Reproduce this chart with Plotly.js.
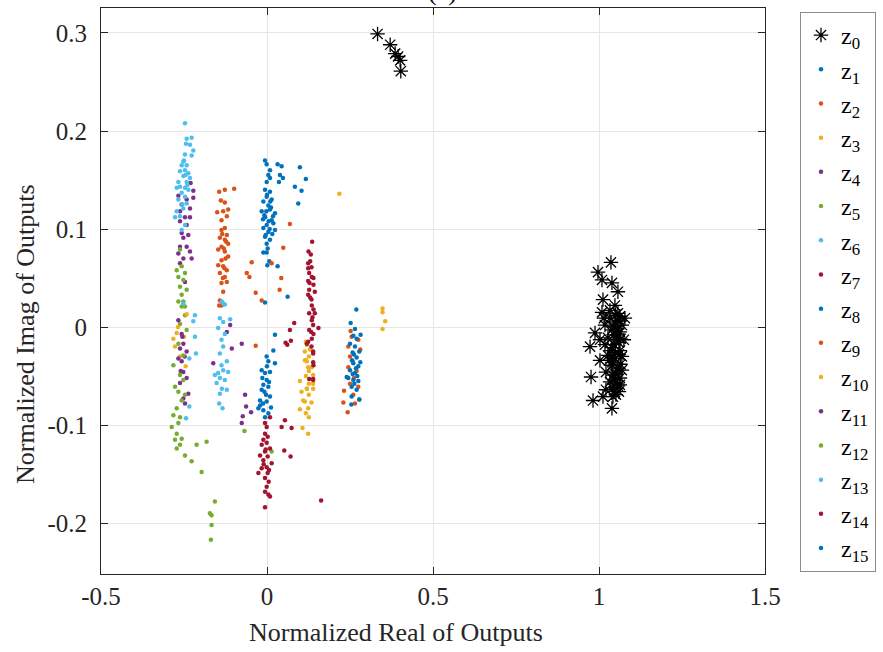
<!DOCTYPE html>
<html>
<head>
<meta charset="utf-8">
<script src="https://cdn.plot.ly/plotly-3.0.1.min.js"></script>
<style>html,body{margin:0;padding:0;background:#fff;overflow:hidden}#chart{width:883px;height:652px}</style>
</head>
<body>
<div id="chart"></div>
<script>
// ---- data ----
const seriesNames = ['z<sub>0</sub>','z<sub>1</sub>','z<sub>2</sub>','z<sub>3</sub>','z<sub>4</sub>','z<sub>5</sub>','z<sub>6</sub>','z<sub>7</sub>','z<sub>8</sub>','z<sub>9</sub>','z<sub>10</sub>','z<sub>11</sub>','z<sub>12</sub>','z<sub>13</sub>','z<sub>14</sub>','z<sub>15</sub>'];
const xTitle = 'Normalized Real of Outputs';
const yTitle = 'Normalized Imag of Outputs';
const plotTitle = '(a)';
const xTickVals = [-0.5, 0, 0.5, 1, 1.5];
const xTickText = ['-0.5','0','0.5','1','1.5'];
const yTickVals = [-0.2, -0.1, 0, 0.1, 0.2, 0.3];
const yTickText = ['-0.2','-0.1','0','0.1','0.2','0.3'];

const z0x = [0.333,0.371,0.386,0.395,0.401,0.403,1.036,0.997,1.009,1.039,1.057,1.012,1.009,1.057,1.033,1.048,1.063,1.018,0.988,1.039,1.063,1.027,1.051,0.973,1.018,1.039,1.063,1.027,1.048,1.069,1.003,1.039,1.057,1.021,0.976,1.042,1.063,1.033,1.057,1.021,1.045,0.982,1.012,1.042,1.039,1.063,1.051,1.030,1.069,1.075,1.069,1.078,1.015,1.003,1.033,1.048,1.045,1.055,1.060,1.050,1.040,1.065,1.055,1.045,1.060,1.050,1.040,1.055,1.065,1.045,1.050,1.060,1.035,1.055,1.045,1.060];
const z0y = [0.299,0.288,0.279,0.276,0.272,0.261,0.066,0.056,0.048,0.045,0.036,0.028,0.015,0.014,0.009,0.005,0.011,0.002,-0.006,-0.003,-0.005,-0.011,-0.013,-0.020,-0.018,-0.021,-0.024,-0.029,-0.032,-0.030,-0.034,-0.039,-0.042,-0.046,-0.051,-0.049,-0.052,-0.056,-0.060,-0.064,-0.066,-0.075,-0.071,-0.071,-0.083,-0.059,-0.069,-0.034,0.002,-0.013,-0.044,0.009,0.009,-0.013,0.017,0.022,0.000,-0.008,-0.016,-0.026,-0.036,-0.012,-0.044,-0.054,-0.028,0.012,-0.062,-0.002,-0.038,-0.018,-0.048,0.006,-0.024,-0.058,-0.008,-0.066];

const z1x = [-0.006,-0.001,0.032,0.044,0.009,0.099,0.004,0.039,0.048,0.117,0.009,-0.001,0.036,0.084,-0.006,0.009,0.104,-0.001,0.014,-0.011,0.004,0.094,-0.016,0.009,0.024,-0.006,0.014,-0.001,-0.011,0.019,0.004,0.024,-0.006,0.009,-0.001,-0.011,-0.001,0.007,0.001,0.032,0.062,-0.006,0.000,0.012,-0.008,0.005,0.016,-0.004,0.010,-0.012,0.002,0.018,-0.002,0.008];
const z1y = [0.170,0.166,0.166,0.164,0.160,0.163,0.155,0.155,0.152,0.151,0.152,0.148,0.148,0.143,0.140,0.138,0.139,0.133,0.130,0.128,0.124,0.126,0.118,0.120,0.116,0.112,0.109,0.104,0.101,0.106,0.097,0.099,0.092,0.089,0.085,0.076,0.076,0.067,0.063,0.062,0.031,0.025,0.135,0.122,0.114,0.108,0.095,0.094,0.128,0.110,0.080,0.113,0.118,0.100];

const z2x = [-0.144,-0.127,-0.099,-0.139,-0.127,-0.117,-0.150,-0.132,-0.121,-0.137,-0.127,-0.137,-0.121,-0.142,-0.127,-0.117,-0.137,-0.147,-0.127,-0.117,-0.137,-0.147,-0.132,-0.121,-0.142,-0.127,-0.137,-0.121,-0.132,-0.142,-0.137,-0.144,-0.130,-0.125,-0.135,-0.128,-0.133,-0.123];
const z2y = [0.138,0.140,0.141,0.129,0.127,0.120,0.117,0.118,0.113,0.109,0.101,0.099,0.094,0.091,0.089,0.085,0.082,0.079,0.077,0.072,0.068,0.063,0.062,0.058,0.055,0.051,0.045,0.046,0.036,0.027,0.022,0.022,0.080,0.070,0.095,0.060,0.050,0.087];

const z3x = [0.117,0.120,0.114,0.129,0.126,0.120,0.117,0.135,0.126,0.117,0.139,0.099,0.126,0.120,0.139,0.104,0.126,0.114,0.134,0.099,0.117,0.126,0.114,0.124,0.120,0.139,0.109,0.124,0.107,0.124];
const z3y = [-0.015,-0.018,-0.025,-0.023,-0.030,-0.035,-0.034,-0.041,-0.045,-0.050,-0.049,-0.055,-0.058,-0.063,-0.063,-0.066,-0.069,-0.076,-0.077,-0.084,-0.088,-0.092,-0.034,-0.041,-0.063,-0.058,-0.075,-0.083,-0.103,-0.109];

const z4x = [-0.230,-0.222,-0.267,-0.242,-0.222,-0.257,-0.232,-0.262,-0.247,-0.232,-0.262,-0.242,-0.257,-0.237,-0.252,-0.262,-0.242,-0.267,-0.232,-0.252,-0.227,-0.262,-0.247];
const z4y = [0.147,0.139,0.134,0.130,0.132,0.125,0.121,0.118,0.112,0.112,0.108,0.104,0.096,0.094,0.091,0.082,0.082,0.075,0.077,0.070,0.070,0.065,0.046];

const z5x = [-0.262,-0.272,-0.257,-0.247,-0.267,-0.252,-0.262,-0.242,-0.257,-0.267,-0.247,-0.252,-0.257,-0.247,-0.262,-0.242];
const z5y = [0.079,0.058,0.062,0.055,0.051,0.048,0.041,0.038,0.033,0.026,0.021,0.026,0.021,0.012,0.003,-0.003];

const z6x = [-0.247,-0.242,-0.227,-0.232,-0.244,-0.222,-0.247,-0.227,-0.252,-0.257,-0.242,-0.247,-0.262,-0.237,-0.252,-0.232,-0.267,-0.242,-0.262,-0.247,-0.272,-0.237,-0.257,-0.247,-0.267,-0.242,-0.252,-0.272,-0.262,-0.277,-0.247,-0.257,-0.250,-0.240,-0.255,-0.245];
const z6y = [0.208,0.192,0.193,0.186,0.187,0.180,0.176,0.175,0.169,0.165,0.165,0.160,0.159,0.157,0.154,0.152,0.148,0.148,0.143,0.142,0.142,0.140,0.137,0.133,0.130,0.126,0.121,0.118,0.113,0.112,0.104,0.099,0.170,0.145,0.125,0.155];

const z7x = [0.136,0.125,0.132,0.124,0.130,0.124,0.134,0.127,0.135,0.140,0.124,0.140,0.127,0.144,0.124,0.134,0.135,0.140,0.127,0.144,0.135,0.139,0.155,0.127,0.140,0.135,0.124,0.134,0.139,0.140,0.139,0.082,0.069,0.072,0.056,0.061,0.120,0.139,0.139,0.127,0.139,0.130,0.137,0.128,0.133];
const z7y = [0.087,0.077,0.074,0.065,0.067,0.060,0.061,0.055,0.051,0.050,0.047,0.043,0.038,0.036,0.033,0.028,0.022,0.018,0.014,0.014,0.007,0.002,-0.001,-0.003,-0.007,-0.012,-0.015,-0.020,-0.027,-0.039,-0.053,0.004,-0.003,-0.014,-0.016,-0.018,-0.017,-0.025,-0.036,-0.053,-0.054,0.030,0.010,0.045,-0.005];

const z8x = [0.024,0.019,-0.001,0.004,-0.016,-0.006,0.009,-0.001,0.024,-0.011,0.004,-0.016,-0.003,0.009,-0.021,-0.001,-0.026,-0.011,0.004,-0.006,-0.021,-0.014,0.000,-0.008,0.006,-0.012,0.012];
const z8y = [-0.008,-0.024,-0.030,-0.035,-0.044,-0.047,-0.046,-0.054,-0.037,-0.059,-0.061,-0.064,-0.069,-0.071,-0.075,-0.076,-0.083,-0.085,-0.088,-0.092,-0.080,-0.052,-0.040,-0.066,-0.056,-0.078,-0.082];

const z9x = [0.255,0.245,0.275,0.250,0.281,0.245,0.270,0.250,0.275,0.232,0.260,0.230,0.278,0.265,0.243,0.069,0.049,-0.046,0.014,-0.061,-0.053,0.043,-0.034,0.038,-0.016,-0.034,0.258,0.262,0.252];
const z9y = [-0.010,-0.020,-0.013,-0.030,-0.023,-0.041,-0.045,-0.058,-0.061,-0.065,-0.069,-0.077,-0.074,-0.078,-0.087,0.105,0.081,0.066,0.065,0.055,0.051,0.050,0.035,0.038,0.027,-0.019,-0.035,-0.052,-0.004];

const z10x = [0.218,0.348,0.348,0.356,0.348,-0.282,-0.272,-0.242,-0.277,-0.262,-0.250,-0.268,-0.245];
const z10y = [0.136,0.019,0.015,0.006,-0.002,-0.012,-0.006,0.013,-0.020,-0.030,-0.010,0.000,-0.040];

const z11x = [-0.267,-0.257,-0.252,-0.262,-0.242,-0.267,-0.257,-0.252,-0.242,-0.262,-0.237,-0.252,-0.247,-0.111,-0.121,-0.106,-0.076,-0.162,-0.066,-0.063,-0.073,-0.048,-0.076,-0.255,-0.260,-0.248];
const z11y = [0.007,-0.007,-0.017,-0.022,-0.025,-0.032,-0.035,-0.046,-0.052,-0.057,-0.068,-0.073,-0.078,0.002,-0.005,-0.022,-0.017,-0.037,-0.069,-0.081,-0.091,-0.087,-0.098,-0.010,-0.045,-0.030];

const z12x = [-0.267,-0.252,-0.282,-0.262,-0.252,-0.277,-0.267,-0.247,-0.257,-0.272,-0.282,-0.262,-0.287,-0.267,-0.272,-0.257,-0.277,-0.262,-0.272,-0.247,-0.227,-0.212,-0.182,-0.197,-0.157,-0.172,-0.167,-0.167,-0.169,-0.068,0.014];
const z12y = [-0.017,-0.029,-0.039,-0.049,-0.054,-0.061,-0.066,-0.069,-0.075,-0.083,-0.090,-0.092,-0.102,-0.098,-0.109,-0.114,-0.115,-0.120,-0.124,-0.131,-0.137,-0.120,-0.117,-0.148,-0.178,-0.190,-0.192,-0.202,-0.217,-0.106,-0.127];

const z13x = [-0.136,-0.127,-0.142,-0.111,-0.132,-0.147,-0.127,-0.137,-0.132,-0.142,-0.121,-0.137,-0.132,-0.147,-0.117,-0.142,-0.127,-0.152,-0.136,-0.121,-0.142,-0.144,-0.134,-0.157,-0.132,-0.252,-0.217,-0.222,-0.217,-0.214,-0.234,-0.234,-0.244];
const z13y = [0.026,0.023,0.009,0.008,0.005,-0.001,-0.007,-0.013,-0.020,-0.027,-0.035,-0.039,-0.044,-0.047,-0.046,-0.052,-0.054,-0.057,-0.063,-0.064,-0.068,-0.078,-0.083,-0.049,0.024,0.024,0.012,0.006,-0.010,-0.027,-0.032,-0.081,-0.093];

const z14x = [-0.001,-0.006,0.002,-0.011,-0.001,-0.016,0.009,-0.006,-0.021,0.002,-0.011,0.014,-0.001,-0.016,-0.026,0.002,-0.006,-0.001,-0.006,0.004,0.009,-0.006,-0.006,0.009,0.044,0.054,0.074,0.052,0.071,0.163,0.005,-0.010,0.006,-0.004];
const z14y = [-0.102,-0.109,-0.112,-0.115,-0.118,-0.120,-0.124,-0.127,-0.131,-0.132,-0.136,-0.139,-0.143,-0.144,-0.149,-0.149,-0.154,-0.163,-0.168,-0.171,-0.173,-0.184,-0.098,-0.092,-0.102,-0.095,-0.103,-0.126,-0.132,-0.177,-0.158,-0.140,-0.146,-0.125];

const z15x = [0.269,0.252,0.265,0.282,0.260,0.270,0.250,0.265,0.278,0.258,0.270,0.260,0.275,0.250,0.265,0.245,0.260,0.275,0.255,0.270,0.255,0.278,0.254,0.240,0.281,0.262,0.268,0.256,0.272,0.263,0.258];
const z15y = [0.018,0.004,-0.002,-0.008,-0.009,-0.012,-0.017,-0.020,-0.025,-0.026,-0.031,-0.037,-0.040,-0.044,-0.047,-0.052,-0.054,-0.055,-0.061,-0.064,-0.071,-0.074,-0.079,-0.051,-0.036,-0.028,-0.042,-0.034,-0.050,-0.058,-0.048];

// ---- styling ----
const palette = ['#0072BD','#D95319','#EDB120','#7E2F8E','#77AC30','#4DBEEE','#A2142F'];
const xs = [z0x,z1x,z2x,z3x,z4x,z5x,z6x,z7x,z8x,z9x,z10x,z11x,z12x,z13x,z14x,z15x];
const ys = [z0y,z1y,z2y,z3y,z4y,z5y,z6y,z7y,z8y,z9y,z10y,z11y,z12y,z13y,z14y,z15y];
const FONT = 'Liberation Serif, Times New Roman, serif';
const ink = '#262626';

const traces = xs.map((x, i) => {
  const t = {
    type: 'scatter', mode: 'markers', x: x, y: ys[i], name: seriesNames[i],
    legendgroup: 'g' + i
  };
  if (i === 0) {
    t.marker = {symbol: 'asterisk-open', size: 12, color: '#000', line: {color: '#000', width: 1.3}};
  } else {
    t.marker = {symbol: 'circle', size: 4.5, color: palette[(i - 1) % 7], line: {width: 0}};
  }
  return t;
});

const axisCommon = {
  showline: true, mirror: 'ticks', linecolor: ink, linewidth: 1,
  ticks: 'inside', ticklen: 7, tickcolor: ink, tickwidth: 1,
  showgrid: true, gridcolor: '#e6e6e6', gridwidth: 1, zeroline: false,
  tickfont: {family: FONT, size: 25, color: ink}, tickmode: 'array'
};

const layout = {
  width: 883, height: 652,
  margin: {l: 101, r: 118, t: 8, b: 78, autoexpand: false},
  paper_bgcolor: '#fff', plot_bgcolor: '#fff',
  showlegend: true,
  font: {family: FONT, color: ink},
  xaxis: Object.assign({}, axisCommon, {
    range: [-0.5, 1.5], tickvals: xTickVals, ticktext: xTickText
  }),
  yaxis: Object.assign({}, axisCommon, {
    range: [-0.252, 0.3255], tickvals: yTickVals, ticktext: yTickText,
    ticklabelstandoff: 8
  }),
  legend: {
    x: 1.0527, xanchor: 'left', y: 0.993, yanchor: 'top',
    bgcolor: '#fff', bordercolor: '#8c8c8c', borderwidth: 1,
    font: {family: FONT, size: 24, color: '#000'},
    tracegroupgap: 0, itemsizing: 'trace'
  },
  annotations: [
    {text: plotTitle, xref: 'paper', yref: 'paper', x: 0.515, y: 1, xanchor: 'center', yanchor: 'bottom',
     yshift: 0, showarrow: false, font: {family: FONT, size: 26, color: '#000'}},
    {text: xTitle, xref: 'paper', yref: 'paper', x: 0.444, y: 0, xanchor: 'center', yanchor: 'middle',
     yshift: -58, showarrow: false, font: {family: FONT, size: 26, color: ink}},
    {text: yTitle, xref: 'paper', yref: 'paper', x: 0, y: 0.424, xanchor: 'center', yanchor: 'middle',
     xshift: -76, textangle: -90, showarrow: false, font: {family: FONT, size: 26, color: ink}}
  ]
};

Plotly.newPlot('chart', traces, layout, {displayModeBar: false, staticPlot: true});
</script>
</body>
</html>
